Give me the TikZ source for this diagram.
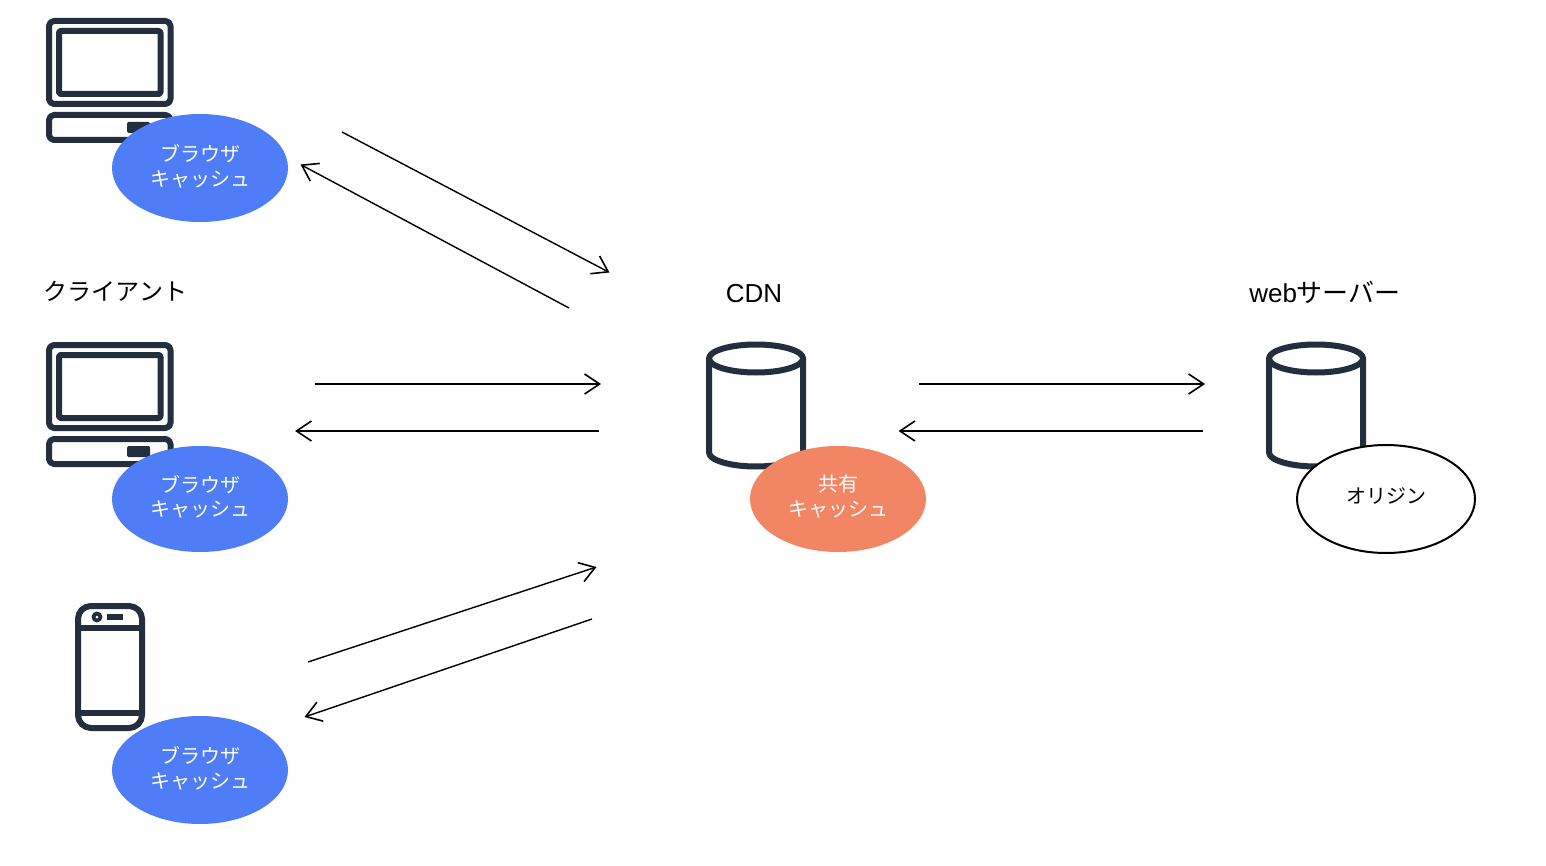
\documentclass[tikz,border=0pt]{standalone}
\usepackage{fontspec}
\setmainfont{Noto Sans CJK JP}
\newfontfamily\latinfont{Liberation Sans}
\usetikzlibrary{arrows.meta,shapes.geometric}
\definecolor{iconDark}{HTML}{232F3E}
\definecolor{cacheBlue}{HTML}{4F7CF7}
\definecolor{cacheOrange}{HTML}{F28563}
\tikzset{
  icon/.style={draw=iconDark,line width=6pt,line join=round,fill=white},
  cachebase/.style={ellipse,inner sep=0pt,minimum width=176pt,minimum height=106pt},
  cachetext/.style={inner sep=0pt,align=center,yshift=2.3pt,font=\fontsize{20}{24.5}\selectfont},
  browsercache/.style={cachebase,fill=cacheBlue},
  sharedcache/.style={cachebase,fill=cacheOrange},
  origincache/.style={cachebase,draw=black,line width=2pt,fill=white,minimum width=178pt,minimum height=108pt},
  grouplabel/.style={inner sep=0pt,font=\fontsize{24}{28}\selectfont,text=black},
  widelabel/.style={inner sep=0pt,font=\fontsize{26}{30}\selectfont,text=black},
  flow/.style={draw=black,line width=1.4pt,-{Straight Barb[length=15pt,width=20pt,line width=1.6pt]}},
  pics/desktop/.style={code={
    \draw[icon,rounded corners=5pt] (49,21) rectangle (170.5,104);
    \draw[icon,rounded corners=2pt] (59,31) rectangle (160.5,94);
    \draw[icon,rounded corners=5pt] (49,115) rectangle (170.5,140);
    \fill[iconDark,rounded corners=1.5pt] (127,122) rectangle (150,133);
  }},
  pics/drum/.style={code={
    \draw[icon] (-47,0) -- (-47,94) arc[start angle=180,end angle=0,x radius=47,y radius=14] -- (47,0);
    \draw[icon] (0,0) ellipse[x radius=47,y radius=14];
  }}
}
\begin{document}
\begin{tikzpicture}[x=1pt,y=-1pt]
\useasboundingbox[fill=white] (0,0) rectangle (1546,866);

\pic at (0,0) {desktop};
\pic at (0,324) {desktop};

% phone
\draw[icon,rounded corners=13pt] (78,606) rectangle (142,728);
\draw[iconDark,line width=5.6pt] (78,628) -- (142,628);
\draw[iconDark,line width=5.6pt] (78,713) -- (142,713);
\fill[iconDark] (97,617) circle[radius=5.5];
\fill[white] (97,617) circle[radius=1.5];
\fill[iconDark] (107,614) rectangle (123,620);

\pic at (756,358.5) {drum};
\pic at (1316,358.5) {drum};

\node[browsercache,minimum height=108pt,label={[cachetext,yshift=-0.5pt,text=white]center:ブラウザ\\キャッシュ}] (cacheA) at (200,168) {};
\node[browsercache,label={[cachetext,text=white]center:ブラウザ\\キャッシュ}] (cacheB) at (200,499) {};
\node[browsercache,minimum height=108pt,label={[cachetext,yshift=-0.5pt,text=white]center:ブラウザ\\キャッシュ}] (cacheC) at (200,770) {};
\node[sharedcache,label={[cachetext,text=white]center:共有\\キャッシュ}] (cacheCdn) at (838,499) {};
\node[origincache,label={[cachetext,yshift=0.8pt,text=black]center:オリジン}] (cacheOrigin) at (1386,499) {};

\node[grouplabel] (clientLabel) at (115.5,291) {クライアント};
\node[widelabel] (cdnLabel) at (754,294) {\latinfont CDN};
\node[widelabel] (webLabel) at (1325,292) {{\latinfont web}サーバー};

\coordinate (a1s) at (342,132);  \coordinate (a1e) at (609.5,272.5);
\coordinate (a2s) at (569,308);  \coordinate (a2e) at (300.5,164.5);
\coordinate (b1s) at (315,384);  \coordinate (b1e) at (601,384);
\coordinate (b2s) at (599,431);  \coordinate (b2e) at (295,431);
\coordinate (c1s) at (308,662);  \coordinate (c1e) at (596.5,567);
\coordinate (c2s) at (592,619);  \coordinate (c2e) at (304.5,717);
\coordinate (d1s) at (919,384);  \coordinate (d1e) at (1205,384);
\coordinate (d2s) at (1203,431); \coordinate (d2e) at (898.5,431);

\draw[flow] (a1s) -- (a1e);
\draw[flow] (a2s) -- (a2e);
\draw[flow] (b1s) -- (b1e);
\draw[flow] (b2s) -- (b2e);
\draw[flow] (c1s) -- (c1e);
\draw[flow] (c2s) -- (c2e);
\draw[flow] (d1s) -- (d1e);
\draw[flow] (d2s) -- (d2e);
\end{tikzpicture}
\end{document}
